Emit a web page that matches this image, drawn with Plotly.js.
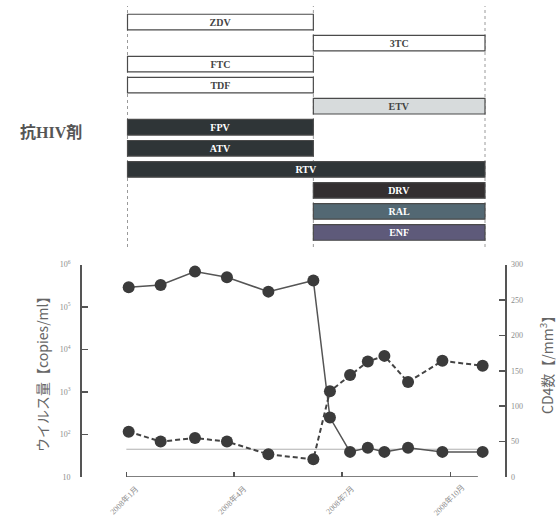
<!DOCTYPE html>
<html>
<head>
<meta charset="utf-8">
<script src="https://cdn.plot.ly/plotly-3.0.1.min.js"></script>
<style>html,body{margin:0;padding:0;background:#fff;}#chart{width:556px;height:521px;}</style>
</head>
<body>
<div id="chart"></div>
<script>
// ---- Data ----
const visitDates = ['2008-01-03','2008-01-30','2008-02-28','2008-03-26','2008-04-30','2008-06-07','2008-06-21','2008-07-08','2008-07-23','2008-08-06','2008-08-26','2008-09-24','2008-10-28'];
const viralLoad = [290000, 330000, 680000, 500000, 230000, 420000, 250, 39, 49, 39, 49, 39, 39];
const cd4Count = [64, 50, 55, 50, 32, 25, 121, 144, 163, 171, 134, 164, 157];
const detectionLimit = 45;

const drugNames = ['ZDV','3TC','FTC','TDF','ETV','FPV','ATV','RTV','DRV','RAL','ENF'];
const drugStart = ['2008-01-02','2008-06-07','2008-01-02','2008-01-02','2008-06-07','2008-01-02','2008-01-02','2008-01-02','2008-06-07','2008-06-07','2008-06-07'];
const drugEnd   = ['2008-06-07','2008-10-30','2008-06-07','2008-06-07','2008-10-30','2008-06-07','2008-06-07','2008-10-30','2008-10-30','2008-10-30','2008-10-30'];
const drugFill  = ['#ffffff','#ffffff','#ffffff','#ffffff','#d7dbdc','#2f3537','#2f3537','#2f3537','#332f30','#536873','#5e5a7a'];
const drugText  = ['#444444','#444444','#444444','#444444','#444444','#ffffff','#ffffff','#ffffff','#ffffff','#ffffff','#ffffff'];

const tickDates = ['2008-01-01','2008-04-01','2008-07-01','2008-10-01'];
const tickLabels = ['2008年1月','2008年4月','2008年7月','2008年10月'];
const vlTickVals = [10, 100, 1000, 10000, 100000, 1000000];
const vlTickText = ['10','10<sup>2</sup>','10<sup>3</sup>','10<sup>4</sup>','10<sup>5</sup>','10<sup>6</sup>'];
const cd4TickVals = [0, 50, 100, 150, 200, 250, 300];

// ---- Helpers ----
const W = 556, H = 521;
const px = v => v / W;
const py = v => 1 - v / H;

const durations = drugStart.map((s, i) => Date.parse(drugEnd[i]) - Date.parse(s));
const boundaryDates = Array.from(new Set(drugStart.concat(drugEnd)));

const serif = 'Liberation Serif, Times New Roman, serif';
const sans = 'Noto Sans CJK JP, Noto Sans, sans-serif';

const traces = [
  {
    type: 'bar', orientation: 'h',
    y: drugNames, x: durations, base: drugStart,
    xaxis: 'x', yaxis: 'y3',
    width: 0.74,
    marker: {color: drugFill, line: {color: '#4a4a4a', width: 1.2}},
    text: drugNames,
    textposition: 'inside', insidetextanchor: 'middle', constraintext: 'none',
    textangle: 0,
    textfont: {family: serif, size: 10, color: drugText, weight: 'bold'},
    hoverinfo: 'skip', showlegend: false
  },
  {
    type: 'scatter', mode: 'lines',
    x: [tickDates[0], drugEnd[drugEnd.length - 1]], y: [detectionLimit, detectionLimit],
    xaxis: 'x', yaxis: 'y',
    line: {color: '#b0b0b0', width: 1},
    hoverinfo: 'skip', showlegend: false
  },
  {
    type: 'scatter', mode: 'lines+markers',
    x: visitDates, y: cd4Count, xaxis: 'x', yaxis: 'y2',
    line: {color: '#444', width: 2, dash: '5px,3px'},
    marker: {color: '#3b3b3b', size: 12},
    showlegend: false
  },
  {
    type: 'scatter', mode: 'lines+markers',
    x: visitDates, y: viralLoad, xaxis: 'x', yaxis: 'y',
    line: {color: '#555', width: 1.5},
    marker: {color: '#3b3b3b', size: 12},
    showlegend: false
  }
];

const shapes = boundaryDates.map(d => ({
  type: 'line', xref: 'x', yref: 'paper', x0: d, x1: d, y0: py(247), y1: py(6),
  line: {color: '#9a9a9a', width: 1, dash: 'dot'}, layer: 'below'
}));
shapes.push({
  type: 'line', xref: 'x', yref: 'y2', x0: tickDates[0], x1: '2008-10-24', y0: 0, y1: 0,
  line: {color: '#555', width: 1.5}
});

const annotations = tickDates.map((d, i) => ({
  x: d, xref: 'x', y: py(500), yref: 'paper', text: tickLabels[i], showarrow: false,
  textangle: -45, xanchor: 'center', yanchor: 'middle', xshift: -2,
  font: {family: serif + ', Noto Sans CJK JP', size: 8, color: '#8c8c8c'}
}));
annotations.push({
  x: px(51), y: py(132), xref: 'paper', yref: 'paper', text: '抗HIV剤', showarrow: false,
  xanchor: 'center', yanchor: 'middle',
  font: {family: 'Liberation Serif, Noto Sans CJK JP', size: 16, color: '#555', weight: 'bold'}
});
annotations.push({
  x: px(42), y: py(371), xref: 'paper', yref: 'paper', text: 'ウイルス量【copies/ml】',
  xanchor: 'center', yanchor: 'middle',
  showarrow: false, textangle: -90, font: {family: sans, size: 14, color: '#666'}
});
annotations.push({
  x: px(546), y: py(362), xref: 'paper', yref: 'paper', text: 'CD4数【/mm<sup>3</sup>】',
  xanchor: 'center', yanchor: 'middle',
  showarrow: false, textangle: -90, font: {family: sans, size: 14, color: '#666'}
});

const layout = {
  width: W, height: H,
  margin: {l: 0, r: 0, t: 0, b: 0},
  paper_bgcolor: '#fff', plot_bgcolor: 'rgba(0,0,0,0)',
  showlegend: false,
  xaxis: {
    type: 'date', domain: [px(81.7), px(505)],
    range: ['2007-11-24 07:12', '2008-11-15 21:36'],
    anchor: 'y',
    tickvals: tickDates, showticklabels: false,
    ticks: 'inside', ticklen: 5, tickwidth: 1.5, tickcolor: '#555',
    showline: false, showgrid: false, zeroline: false
  },
  yaxis: {
    type: 'log', domain: [py(477), py(264.5)], range: [1, 6], anchor: 'x',
    tickvals: vlTickVals, ticktext: vlTickText,
    ticks: 'inside', ticklen: 6, tickwidth: 1.5, tickcolor: '#555',
    showline: true, linecolor: '#555', linewidth: 1.5,
    showgrid: false, zeroline: false, ticklabelstandoff: 8,
    tickfont: {family: serif, size: 8, color: '#8c8c8c'}
  },
  yaxis2: {
    overlaying: 'y', side: 'right', anchor: 'x', range: [0, 300],
    tickvals: cd4TickVals,
    ticks: 'inside', ticklen: 6, tickwidth: 1.5, tickcolor: '#555',
    showline: true, linecolor: '#555', linewidth: 1.5,
    showgrid: false, zeroline: false, ticklabelstandoff: 3,
    tickfont: {family: serif, size: 8, color: '#8c8c8c'}
  },
  yaxis3: {
    type: 'category', domain: [py(243), py(11.5)], anchor: 'x',
    categoryorder: 'array', categoryarray: drugNames,
    range: [drugNames.length - 0.5, -0.5],
    showticklabels: false, showgrid: false, zeroline: false, showline: false, ticks: ''
  },
  shapes: shapes,
  annotations: annotations
};

Plotly.newPlot('chart', traces, layout, {displayModeBar: false, staticPlot: true});
</script>
</body>
</html>
